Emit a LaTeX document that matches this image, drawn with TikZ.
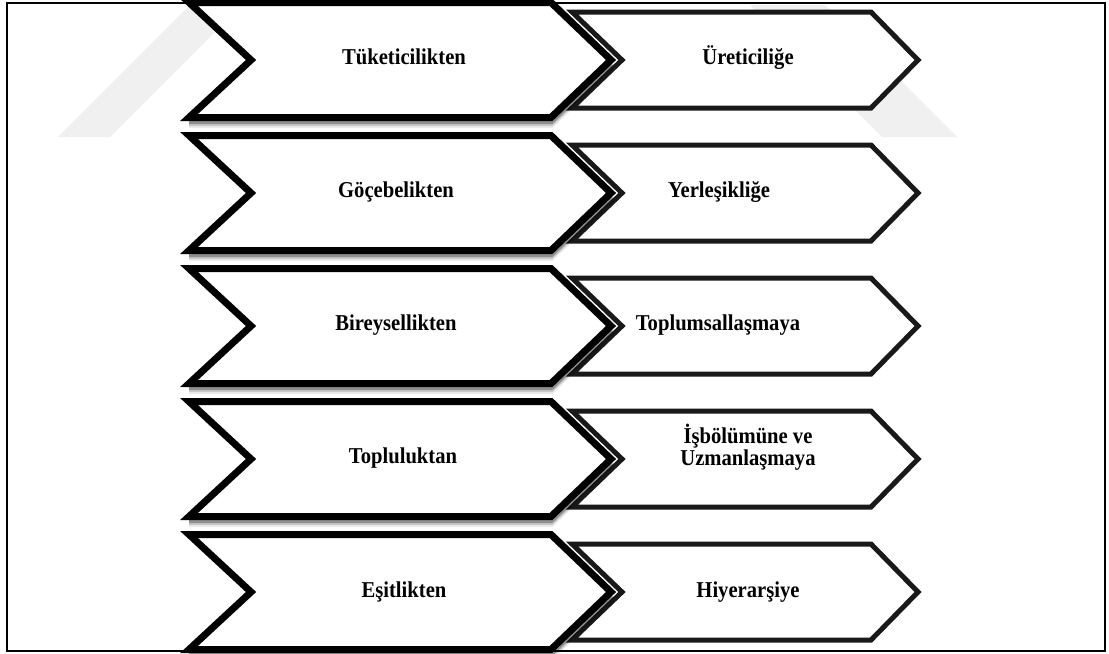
\documentclass[tikz,border=0pt]{standalone}
\usepackage{fontspec}
\setmainfont{Liberation Serif}
\newfontfamily\lblfont[FakeStretch=0.91]{Liberation Serif}
\begin{document}
\begin{tikzpicture}[x=0.75pt,y=-0.75pt,
  frame/.style={draw=black, line width=1.1pt},
  watermark/.style={fill=black!6, draw=none},
  fromshape/.style={draw=black, line width=5.25pt, fill=white, line join=miter},
  fromshadow/.style={draw=black, line width=5.25pt, line join=miter},
  toshape/.style={draw=black!90, line width=3.75pt, fill=white, line join=miter},
  lbl/.style={font=\lblfont\bfseries\fontsize{17}{16.5}\selectfont, align=center,
    text height=0.66em, text depth=0pt, inner sep=0pt}]
  \useasboundingbox (0,0) rectangle (1109,653);
  \fill[white] (0,0) rectangle (1109,653);

  % faint background emblem
  \fill[watermark] (58,137) -- (110,137) -- (242,5) -- (190,5) -- cycle;
  \fill[watermark] (750,5) -- (825,5) -- (957,137) -- (882,137) -- cycle;

  % outer frame
  \draw[frame] (7,3) rectangle (1105,651);

  % target chevrons (right column)
  \foreach \c in {60,193,326,459,592}
    \draw[toshape] (572,\c-48) -- (871,\c-48) -- (918,\c) -- (871,\c+48)
      -- (572,\c+48) -- (622,\c) -- cycle;

  % source chevrons (left column) with a soft shadow under the lower edges
  \foreach \c in {60,193,326,459,592}{
    \foreach \d/\o in {7/0.08,5/0.15,3/0.28}
      \draw[fromshadow, opacity=\o, shift={(0,\d)}]
        (189,\c+57.5) -- (551,\c+57.5) -- (611,\c);
    \draw[fromshape] (189,\c-57.5) -- (551,\c-57.5) -- (611,\c) -- (551,\c+57.5)
      -- (189,\c+57.5) -- (251,\c) -- cycle;
  }

  % labels
  \node[lbl] (from1) at (404,60)  {Tüketicilikten};
  \node[lbl] (from2) at (396,193) {Göçebelikten};
  \node[lbl] (from3) at (396,326) {Bireysellikten};
  \node[lbl] (from4) at (403,459) {Topluluktan};
  \node[lbl] (from5) at (404,593) {Eşitlikten};

  \node[lbl] (to1) at (748,60)  {Üreticiliğe};
  \node[lbl] (to2) at (719,193) {Yerleşikliğe};
  \node[lbl] (to3) at (718,326) {Toplumsallaşmaya};
  \node[lbl] (to4) at (748,461) {İşbölümüne ve\\Uzmanlaşmaya};
  \node[lbl] (to5) at (748,593) {Hiyerarşiye};
\end{tikzpicture}
\end{document}
